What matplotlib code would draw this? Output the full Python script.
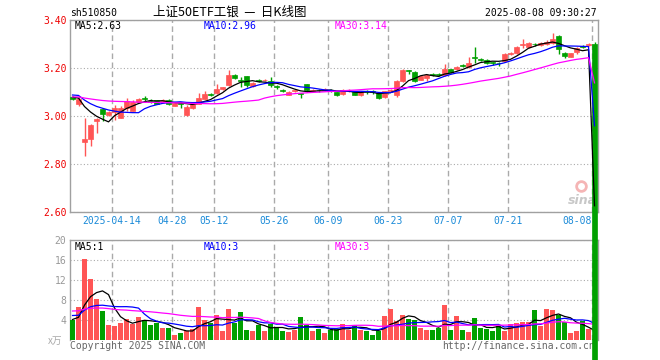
import numpy as np
import pandas as pd
import matplotlib
matplotlib.use("Agg")
import matplotlib.pyplot as plt

plt.rcParams['font.family'] = ['DejaVu Sans Mono']

RED = "#ff5555"
GREEN = "#00a000"
GRID = "#aaaaaa"
FRAME = "#a0a0a0"

# daily OHLC, 2025-04-02 .. 2025-08-08 (last bar is the broken quote with close 0)
opens = [3.078, 3.048, 2.890, 2.905, 2.978, 3.028, 3.003, 3.017, 2.992, 3.033,
         3.022, 3.060, 3.075, 3.064, 3.065, 3.063, 3.067, 3.043, 3.055, 3.004,
         3.034, 3.050, 3.072, 3.092, 3.095, 3.112, 3.128, 3.170, 3.148, 3.166,
         3.125, 3.149, 3.148, 3.145, 3.126, 3.107, 3.089, 3.103, 3.094, 3.133,
         3.106, 3.109, 3.109, 3.110, 3.100, 3.092, 3.103, 3.100, 3.089, 3.102,
         3.104, 3.094, 3.080, 3.105, 3.089, 3.145, 3.191, 3.183, 3.151, 3.158,
         3.174, 3.174, 3.170, 3.194, 3.195, 3.213, 3.203, 3.245, 3.238, 3.233,
         3.224, 3.222, 3.228, 3.258, 3.261, 3.295, 3.289, 3.302, 3.295, 3.300,
         3.306, 3.333, 3.264, 3.247, 3.267, 3.291, 3.295, 3.300]
closes = [3.070, 3.072, 2.905, 2.961, 2.987, 3.008, 3.017, 3.033, 3.035, 3.064,
          3.058, 3.070, 3.070, 3.060, 3.052, 3.066, 3.048, 3.055, 3.050, 3.038,
          3.049, 3.075, 3.092, 3.088, 3.111, 3.119, 3.170, 3.157, 3.144, 3.129,
          3.136, 3.146, 3.151, 3.128, 3.122, 3.104, 3.100, 3.107, 3.091, 3.108,
          3.109, 3.107, 3.112, 3.106, 3.086, 3.108, 3.106, 3.089, 3.100, 3.099,
          3.101, 3.075, 3.103, 3.108, 3.145, 3.193, 3.188, 3.147, 3.165, 3.170,
          3.171, 3.171, 3.197, 3.185, 3.205, 3.210, 3.222, 3.242, 3.235, 3.222,
          3.221, 3.219, 3.258, 3.261, 3.289, 3.298, 3.306, 3.299, 3.306, 3.310,
          3.320, 3.278, 3.250, 3.261, 3.283, 3.288, 3.298, 0.0]
highs = [3.085, 3.085, 2.990, 2.968, 2.990, 3.030, 3.022, 3.045, 3.040, 3.075,
         3.065, 3.075, 3.085, 3.070, 3.068, 3.072, 3.070, 3.060, 3.060, 3.046,
         3.052, 3.096, 3.104, 3.096, 3.133, 3.122, 3.190, 3.174, 3.162, 3.168,
         3.140, 3.155, 3.156, 3.161, 3.130, 3.112, 3.103, 3.110, 3.097, 3.135,
         3.112, 3.112, 3.118, 3.112, 3.102, 3.112, 3.112, 3.104, 3.104, 3.110,
         3.110, 3.098, 3.106, 3.114, 3.150, 3.196, 3.193, 3.186, 3.168, 3.174,
         3.178, 3.180, 3.217, 3.197, 3.210, 3.218, 3.245, 3.286, 3.240, 3.236,
         3.226, 3.225, 3.262, 3.266, 3.292, 3.320, 3.310, 3.305, 3.310, 3.316,
         3.347, 3.336, 3.268, 3.264, 3.286, 3.295, 3.303, 3.310]
lows = [3.065, 3.040, 2.832, 2.875, 2.930, 2.980, 2.998, 2.982, 2.990, 3.022,
        3.020, 3.055, 3.060, 3.055, 3.048, 3.058, 3.044, 3.040, 3.035, 3.000,
        3.030, 3.048, 3.070, 3.083, 3.090, 3.108, 3.125, 3.155, 3.120, 3.120,
        3.122, 3.140, 3.145, 3.120, 3.114, 3.098, 3.087, 3.100, 3.075, 3.100,
        3.104, 3.100, 3.106, 3.100, 3.082, 3.088, 3.098, 3.086, 3.084, 3.090,
        3.092, 3.072, 3.077, 3.100, 3.080, 3.140, 3.176, 3.140, 3.148, 3.145,
        3.166, 3.166, 3.165, 3.180, 3.190, 3.205, 3.200, 3.222, 3.230, 3.218,
        3.212, 3.210, 3.225, 3.254, 3.258, 3.285, 3.285, 3.292, 3.290, 3.296,
        3.302, 3.260, 3.242, 3.244, 3.258, 3.284, 3.290, 0.0]
# volume, x万
volumes = [4.1, 6.7, 16.2, 12.2, 8.2, 5.8, 3.0, 2.8, 3.5, 4.2,
           3.3, 4.6, 4.1, 3.0, 3.5, 2.4, 2.4, 1.0, 1.4, 1.9,
           2.3, 6.7, 4.0, 3.4, 5.0, 1.8, 6.2, 3.5, 5.6, 2.1,
           1.8, 3.1, 1.8, 3.3, 2.5, 1.8, 1.7, 2.1, 4.6, 3.1,
           1.8, 2.2, 1.5, 2.0, 2.3, 3.3, 2.1, 3.0, 2.0, 1.8,
           1.0, 1.8, 4.9, 6.2, 3.8, 5.0, 4.2, 4.0, 2.4, 2.0,
           2.0, 2.4, 7.0, 2.0, 4.9, 2.0, 1.6, 4.4, 2.4, 2.2,
           1.8, 2.8, 1.8, 3.2, 3.4, 3.6, 3.6, 6.0, 2.8, 6.2,
           6.0, 5.0, 3.6, 1.4, 1.8, 3.8, 2.2, 0.3]

# estimated March history, only feeds the moving averages
earlier_closes = [3.05, 3.06, 3.07, 3.09, 3.10, 3.08, 3.07, 3.06, 3.08, 3.09,
                  3.10, 3.09, 3.07, 3.06, 3.07, 3.08, 3.07, 3.06, 3.07, 3.08,
                  3.09, 3.10, 3.11, 3.10, 3.085, 3.09, 3.08, 3.075, 3.075]
earlier_volumes = [5.5, 6.0, 7.2, 6.8, 5.9, 6.5, 7.5, 6.1, 5.8, 6.4,
                   7.0, 6.2, 5.6, 6.9, 6.3, 5.7, 6.0, 6.6, 5.4, 5.6,
                   6.2, 5.9, 5.5, 5.6, 5.3, 4.5, 4.0, 3.8, 4.1]

holidays = ["2025-04-04", "2025-05-01", "2025-05-02", "2025-05-05", "2025-06-02"]
tick_dates = ["2025-04-14", "2025-04-28", "2025-05-12", "2025-05-26", "2025-06-09",
              "2025-06-23", "2025-07-07", "2025-07-21", "2025-08-08"]
tick_labels = ["2025-04-14", "04-28", "05-12", "05-26", "06-09",
               "06-23", "07-07", "07-21", "08-08"]

days = pd.bdate_range("2025-04-02", "2025-08-08")
days = days[~days.isin(pd.to_datetime(holidays))]
n = len(days)
x = np.arange(n)
tick_pos = [days.get_loc(pd.Timestamp(d)) - 0.42 for d in tick_dates]

o = np.array(opens)
c = np.array(closes)
colors = [RED if cc > oo else GREEN for oo, cc in zip(o, c)]

close_all = pd.Series(earlier_closes + closes)
vol_all = pd.Series(earlier_volumes + volumes)
ma = {k: close_all.rolling(k).mean().values[-n:] for k in (5, 10, 30)}
vma = {k: vol_all.rolling(k).mean().values[-n:] for k in (5, 10, 30)}
ma_colors = {5: "black", 10: "#0000ff", 30: "#ff00ff"}

fig = plt.figure(figsize=(6.6, 3.6), dpi=100)
W, H = 660.0, 360.0
ax = fig.add_axes([70 / W, 1 - 212 / H, 528 / W, 192 / H])
axv = fig.add_axes([70 / W, 1 - 340 / H, 528 / W, 100 / H])
ax.set_zorder(2)
axv.set_zorder(1)

for a in (ax, axv):
    a.set_xlim(-0.42, n - 0.42)
    for s in a.spines.values():
        s.set_color(FRAME)
        s.set_linewidth(1.0)
    a.set_xticks(tick_pos)
    a.set_xticklabels([])
    a.xaxis.grid(True, color=GRID, lw=1.0, ls=(0, (4, 2.5)))
    a.yaxis.grid(True, color=GRID, lw=0.8, ls=(0, (1, 2)))
    a.set_axisbelow(True)
    a.tick_params(length=0, pad=2.5, labelsize=7)
axv.spines["bottom"].set_visible(False)

# price panel
ax.set_ylim(2.60, 3.40)
ax.set_yticks([2.6, 2.8, 3.0, 3.2, 3.4])
ax.set_yticklabels([f"{v:.2f}" for v in [2.6, 2.8, 3.0, 3.2, 3.4]], color="#ee0000")

wicks = ax.vlines(x, lows, highs, colors=colors, lw=1.0, zorder=3)
wicks.set_clip_on(False)
bodies = ax.bar(x, np.maximum(np.abs(c - o), 0.002), bottom=np.minimum(o, c), width=0.8,
                color=colors, edgecolor=colors, lw=0.5, zorder=4)
for b in bodies:
    b.set_clip_on(False)
for k in (5, 10, 30):
    ax.plot(x, ma[k], color=ma_colors[k], lw=0.9, zorder=5)

for pos, lab in zip(tick_pos, tick_labels):
    ha = "right" if lab == tick_labels[-1] else "center"
    ax.text(pos, -0.045, lab, transform=ax.get_xaxis_transform(), ha=ha, va="center",
            fontsize=7, color="#1a8ad8")

ax.text(5 / 528, 1 - 6 / 192, f"MA5:{ma[5][-1]:.2f}", transform=ax.transAxes,
        fontsize=7, color="black", va="center")
ax.text(134 / 528, 1 - 6 / 192, f"MA10:{ma[10][-1]:.2f}", transform=ax.transAxes,
        fontsize=7, color="#0000ff", va="center")
ax.text(265 / 528, 1 - 6 / 192, f"MA30:{ma[30][-1]:.2f}", transform=ax.transAxes,
        fontsize=7, color="#ff00ff", va="center")

# sina watermark
ax.plot([511 / 528], [26 / 192], "o", ms=7, mfc="none", mec="#f5b5b5", mew=2,
        transform=ax.transAxes, zorder=1)
ax.text(512 / 528, 12 / 192, "sina", transform=ax.transAxes, fontsize=9,
        family="DejaVu Sans", style="italic", weight="bold", color="#c8c8c8",
        ha="center", va="center", zorder=1)

# volume panel
axv.set_ylim(0, 20)
axv.set_yticks([4, 8, 12, 16, 20])
axv.set_yticklabels(["4", "8", "12", "16", "20"], color="#999999")
axv.bar(x, volumes, width=0.83, color=colors, lw=0, zorder=3)
for k in (5, 10, 30):
    axv.plot(x, vma[k], color=ma_colors[k], lw=0.9, zorder=4)
axv.text(5 / 528, 1 - 7 / 100, f"MA5:{int(vma[5][-1])}", transform=axv.transAxes,
         fontsize=7, color="black", va="center")
axv.text(134 / 528, 1 - 7 / 100, f"MA10:{int(vma[10][-1])}", transform=axv.transAxes,
         fontsize=7, color="#0000ff", va="center")
axv.text(265 / 528, 1 - 7 / 100, f"MA30:{int(vma[30][-1])}", transform=axv.transAxes,
         fontsize=7, color="#ff00ff", va="center")

# header and footer
fig.text(70 / W, 1 - 13 / H, "sh510850", fontsize=7, va="center")
fig.text(230 / W, 1 - 12 / H, "上证50ETF工银  —  日K线图", fontsize=9, va="center", ha="center",
         family=["Noto Sans CJK SC", "DejaVu Sans"])
fig.text(597 / W, 1 - 13 / H, "2025-08-08 09:30:27", fontsize=7, va="center", ha="right")
fig.text(48 / W, 1 - 341 / H, "x万", fontsize=7, va="center", color="#aaaaaa",
         family=["Noto Sans CJK SC"], style="italic")
fig.text(70 / W, 1 - 346 / H, "Copyright 2025 SINA.COM", fontsize=7, va="center",
         color="#666666", zorder=1)
fig.text(442 / W, 1 - 346 / H, "http://finance.sina.com.cn", fontsize=7, va="center",
         color="#666666", zorder=1)

fig.savefig("out.png", dpi=100, facecolor="white")
